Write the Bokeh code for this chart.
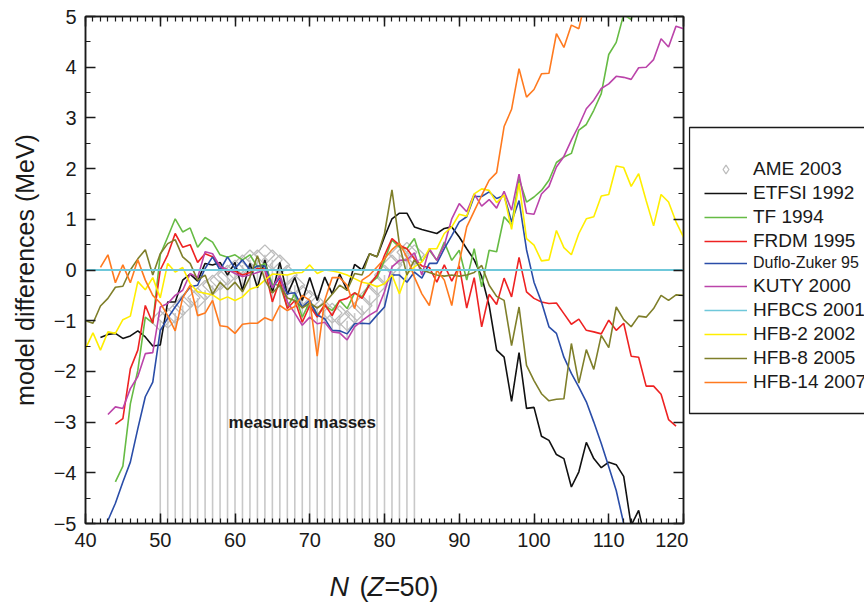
from bokeh.plotting import figure
from bokeh.models import (ColumnDataSource, Legend, LegendItem, LinearAxis,
                          SingleIntervalTicker, Label, Range1d)
from bokeh.layouts import row, column
from bokeh.embed import file_html
from bokeh.resources import INLINE
import numpy as np

# ---------------- data ----------------
ame_start = 50
ame = [-1.0, -0.95, -0.85, -0.7, -0.55, -0.55, -0.4, -0.3, -0.2, -0.1,
       0.0, 0.1, 0.2, 0.2, 0.3, 0.2, 0.1, -0.1, -0.3, -0.5,
       -0.6, -0.7, -0.8, -0.85, -0.9, -1.0, -0.85, -0.7, -0.5, -0.3,
       -0.1, 0.1, 0.3, 0.35, 0.3]

etfsi_start = 42
etfsi = [-1.33, -1.27, -1.25, -1.35, -1.3, -1.2, -1.32, -1.5, -1.48, -0.63,
         -0.63, -0.2, -0.08, -0.22, 0.13, 0.1, 0.15, -0.1, 0.15, -0.4,
         0.13, -0.35, 0.2, -0.45, 0.15, -0.48, -0.15, -0.6, -0.15, -0.6,
         -0.14, -0.47, -0.08, -0.4, 0.11, 0.0, 0.32, 0.26, 0.65, 1.01,
         1.12, 1.12, 0.85, 0.8, 0.76, 0.72, 0.82, 0.85, 0.65, 0.42,
         0.2, -0.13, -0.7, -1.58, -1.72, -2.59, -1.63, -2.73, -2.71, -3.28,
         -3.36, -3.64, -3.72, -4.28, -3.98, -3.4, -3.72, -3.9, -3.79, -3.84,
         -4.07, -5.04, -4.74, -5.4]

tf_start = 44
tf = [-4.18, -3.87, -2.64, -1.98, -0.93, -1.05,
      0.3, 0.65, 1.01, 0.75, 0.83, 0.45, 0.64, 0.55, 0.3, 0.25,
      0.3, 0.2, 0.3, 0.06, 0.13, -0.28, -0.3, -0.73, -0.47, -0.93,
      -0.63, -0.89, -0.7, -0.8, -0.6, -0.76, -0.45, -0.53, -0.27, -0.15,
      0.19, 0.59, 0.45, 0.42, 0.62, 0.16, 0.39, 0.19, 0.55, 0.19,
      0.39, -0.2, 0.42, -0.33, 0.39, 0.36, 1.05, 0.88, 1.8, 1.34,
      1.44, 1.57, 1.77, 2.12, 2.23, 2.3, 2.76, 2.87, 3.15, 3.48,
      4.25, 4.49, 5.04, 4.94, 5.4]

frdm_start = 44
frdm = [-3.04, -2.93, -1.95, -1.58, -0.7, -1.05,
        0.0, 0.3, 0.72, 0.45, 0.5, 0.15, 0.32, 0.26, 0.07, -0.02,
        -0.02, -0.1, -0.05, 0.03, 0.02, -0.63, -0.2, -0.76, -0.6, -1.03,
        -0.7, -0.93, -0.68, -0.9, -0.6, -0.56, -0.45, -0.56, -0.29, -0.1,
        0.29, 0.62, 0.49, 0.42, 0.22, 0.08, 0.05, -0.24, 0.1, -0.22,
        0.08, -0.75, -0.15, -1.12, -0.48, -0.68, -0.16, -0.53, 0.25, -0.43,
        -0.56, -0.63, -0.66, -0.65, -0.86, -1.07, -0.97, -1.19, -1.22, -1.26,
        -0.99, -1.19, -1.05, -1.7, -1.72, -2.29, -2.29, -2.45, -2.95, -3.08]

dz_start = 43
dz = [-4.94, -4.6, -4.18, -3.79, -3.13, -2.5, -2.21,
      -1.19, -0.95, -0.73, -0.53, -0.33, -0.3, 0.03, 0.26, 0.0, 0.26,
      0.03, 0.2, 0.0, 0.08, 0.08, -0.35, -0.15, -0.47, -0.45, -0.73,
      -0.6, -0.89, -0.96, -1.19, -1.2, -1.26, -1.06, -1.05, -1.06, -0.89,
      -0.73, -0.1, -0.1, -0.24, -0.04, -0.16, 0.13, 0.13, 0.42, 0.68,
      0.95, 1.05, 1.45, 1.45, 1.54, 1.41, 1.47, 0.95, 1.37, 0.4,
      -0.24, -0.63, -1.12, -1.25, -1.72, -2.04, -2.31, -2.6, -3.0, -3.42,
      -3.88, -4.35, -5.0, -5.5]

kuty_start = 43
kuty = [-2.85, -2.7, -2.73, -2.34, -2.1, -1.65, -1.63,
        -0.73, -0.66, -0.5, -0.4, -0.07, -0.15, 0.36, 0.32, 0.07, 0.01,
        -0.07, -0.13, -0.1, -0.05, 0.0, -0.35, -0.1, -0.63, -0.85, -1.09,
        -0.93, -1.06, -1.03, -1.22, -1.24, -1.38, -1.12, -1.0, -0.89, -0.8,
        -0.43, 0.06, 0.19, 0.2, 0.34, -0.1, 0.42, 0.19, 0.49, 1.01,
        1.31, 1.15, 1.5, 1.26, 1.39, 1.22, 1.55, 1.18, 1.89, 1.12,
        1.1, 1.5, 1.65, 2.03, 2.24, 2.56, 2.85, 3.18, 3.35, 3.58,
        3.67, 3.82, 3.8, 3.76, 3.99, 4.0, 4.15, 4.56, 4.4, 4.81, 4.76]

hfbcs_N = [40, 120]
hfbcs = [0.0, 0.0]

hfb2_start = 40
hfb2 = [-1.55, -1.24, -1.58, -1.22, -1.25, -0.98, -0.91, -0.23, -0.39, -0.15,
        -0.55, 0.13, -0.04, 0.05, -0.27, -0.43, -0.46, -0.49, -0.59, -0.53,
        -0.6, -0.53, -0.38, -0.33, -0.2, -0.08, -0.09, -0.1, -0.06, -0.05,
        0.1, -0.07, 0.0, -0.02, -0.05, -0.1, -0.17, -0.24, -0.27, -0.33,
        -0.27, -0.1, -0.47, -0.07, 0.06, 0.16, 0.42, 0.42, 0.72, 0.85,
        1.1, 1.06, 1.5, 1.6, 1.57, 1.33, 1.48, 0.8, 1.71, 0.62,
        0.49, 0.18, 0.2, 0.78, 0.44, 0.3, 0.72, 1.01, 1.05, 1.46,
        1.49, 2.05, 2.02, 1.65, 1.9, 1.37, 0.87, 1.49, 1.34, 0.95, 0.65]

hfb8_start = 40
hfb8 = [-1.0, -1.05, -0.71, -0.56, -0.34, -0.32, 0.0, 0.22, 0.4, -0.1,
        0.32, 0.52, 0.6, 0.26, 0.13, -0.2, -0.1, -0.48, -0.24, -0.39,
        -0.24, -0.43, -0.14, 0.28, -0.2, -0.45, -0.3, -0.55, -0.6, -0.75,
        -0.65, -0.75, -0.65, -0.48, -0.3, -0.4, -0.07, -0.1, 0.32, 0.26,
        0.72, 1.58, 0.5, -0.1, 0.2, 0.0, -0.05, -0.1, -0.12, -0.1,
        -0.12, -0.1, -0.05, 0.09, -0.3, -0.52, -0.6, -1.49, -0.73, -1.88,
        -2.18, -2.44, -2.58, -2.55, -2.54, -1.45, -2.23, -1.57, -1.96, -1.29,
        -1.53, -0.73, -0.98, -1.12, -0.91, -0.93, -0.76, -0.5, -0.6, -0.49, -0.5]

hfb14_start = 42
hfb14 = [0.05, 0.3, -0.25, 0.1, -0.25, 0.2, -0.2, -0.5,
         -0.65, -0.9, -1.2, -0.55, -0.3, -0.9, -0.85, -0.6, -1.1, -1.12,
         -1.25, -1.07, -1.05, -1.05, -0.94, -1.0, -0.7, -0.8, -0.72, -0.5,
         -0.6, -1.7, -0.6, -0.15, -0.15, -0.3, -0.76, -0.2, -0.1, 0.06,
         0.22, 0.4, 0.53, 0.25, -0.14, -0.47, -0.7, 0.0, -0.2, -0.7,
         0.15, 0.85, 1.16, 1.47, 1.77, 1.92, 2.83, 3.17, 3.97, 3.41,
         3.56, 3.87, 3.88, 4.66, 4.39, 4.83, 4.76, 5.4]

y_ticks = [-5, -4, -3, -2, -1, 0, 1, 2, 3, 4, 5]


def ns(start, vals):
    return list(range(start, start + len(vals)))


FONT = "Liberation Sans"
INK = "#1a1a1a"

series = [
    ("ETFSI 1992", ns(etfsi_start, etfsi), etfsi, "#111111"),
    ("TF 1994", ns(tf_start, tf), tf, "#66BB44"),
    ("FRDM 1995", ns(frdm_start, frdm), frdm, "#EE2222"),
    ("Duflo-Zuker 95", ns(dz_start, dz), dz, "#2A4DA8"),
    ("KUTY 2000", ns(kuty_start, kuty), kuty, "#BB44AA"),
    ("HFBCS 2001", hfbcs_N, hfbcs, "#6FC8DA"),
    ("HFB-2 2002", ns(hfb2_start, hfb2), hfb2, "#FFEE00"),
    ("HFB-8 2005", ns(hfb8_start, hfb8), hfb8, "#7F7F2A"),
    ("HFB-14 2007", ns(hfb14_start, hfb14), hfb14, "#FF7A1F"),
]

# ---------------- main figure ----------------
p = figure(width=688, height=572, output_backend="svg", toolbar_location=None,
           x_range=Range1d(40, 120), y_range=Range1d(-5, 5),
           min_border_left=85, min_border_right=5, min_border_top=16,
           min_border_bottom=49)
p.frame_align = False
p.grid.visible = False
p.outline_line_color = INK
p.outline_line_width = 1.5

xt = SingleIntervalTicker(interval=10, num_minor_ticks=10)
yt = SingleIntervalTicker(interval=1, num_minor_ticks=2)


def style_axis(ax, labels=True):
    ax.major_tick_in = 10
    ax.major_tick_out = 0
    ax.minor_tick_in = 5
    ax.minor_tick_out = 0
    ax.axis_line_color = INK
    ax.axis_line_width = 1.5
    ax.major_tick_line_color = INK
    ax.major_tick_line_width = 1.5
    ax.minor_tick_line_color = INK
    ax.minor_tick_line_width = 1.2
    ax.major_label_text_font = FONT
    ax.major_label_text_color = INK
    if labels:
        ax.major_label_text_font_size = "20px"
    else:
        ax.major_label_text_font_size = "0px"
        ax.major_label_standoff = 0
        ax.major_label_text_alpha = 0


p.xaxis.ticker = xt
p.yaxis.ticker = yt
style_axis(p.xaxis[0])
style_axis(p.yaxis[0])
p.xaxis.major_label_standoff = 9
p.yaxis.major_label_standoff = 9
p.yaxis.major_label_overrides = {t: ("\u2212%d" % -t if t < 0 else str(t)) for t in y_ticks}
p.yaxis.axis_label = "model differences (MeV)"
p.yaxis.axis_label_text_font = FONT
p.yaxis.axis_label_text_font_size = "25px"
p.yaxis.axis_label_text_font_style = "normal"
p.yaxis.axis_label_text_color = INK
p.yaxis.axis_label_standoff = 12

top_ax = LinearAxis(ticker=xt)
style_axis(top_ax, labels=False)
p.add_layout(top_ax, "above")
right_ax = LinearAxis(ticker=yt)
style_axis(right_ax, labels=False)
p.add_layout(right_ax, "right")

# measured masses (AME 2003)
ame_N = ns(ame_start, ame)
p.segment(x0=ame_N, y0=[-5] * len(ame_N), x1=ame_N, y1=ame,
          line_color="#C8C8C8", line_width=1.6)
p.scatter(x=ame_N, y=ame, marker="square", size=14, angle=np.pi / 4,
          fill_color=None, line_color="#BDBDBD", line_width=1.3)

draw_order = ["ETFSI 1992", "TF 1994", "FRDM 1995", "Duflo-Zuker 95", "KUTY 2000",
              "HFB-2 2002", "HFB-8 2005", "HFB-14 2007", "HFBCS 2001"]
for name in draw_order:
    for (nm, xs, ys, col) in series:
        if nm == name:
            src = ColumnDataSource(dict(N=xs, d=ys))
            p.line(x="N", y="d", source=src, line_color=col,
                   line_width=1.6 if nm != "HFBCS 2001" else 2.0)

p.add_layout(Label(x=69, y=-3, text="measured masses", text_font=FONT,
                   text_font_size="17px", text_font_style="bold",
                   text_align="center", text_baseline="middle", text_color=INK))

# ---------------- legend panel ----------------
lg = figure(width=176, height=572, output_backend="svg", toolbar_location=None,
            x_range=Range1d(0, 176), y_range=Range1d(0, 572),
            x_axis_location=None, y_axis_location=None, min_border=0)
lg.frame_align = False
lg.grid.visible = False
lg.outline_line_color = None
# legend frame box (pixel coordinates of this panel, measured from its bottom)
lg.quad(left=[1], right=[400], bottom=[159], top=[445],
        fill_color="white", line_color=INK, line_width=1.3)

nan = [np.nan]
ame_leg = lg.scatter(x=nan, y=nan, marker="diamond", size=12,
                     fill_color=None, line_color="#BDBDBD", line_width=1.3)
leg_r = {}
for (nm, xs, ys, col) in series:
    leg_r[nm] = lg.line(x=nan, y=nan, line_color=col, line_width=1.6)


def make_legend(items, loc, size):
    L = Legend(items=items, location=loc, orientation="vertical")
    L.label_text_font = FONT
    L.label_text_font_size = size
    L.label_text_color = INK
    L.glyph_width = 43
    L.glyph_height = 22
    L.label_height = 22
    L.label_standoff = 6
    L.spacing = 2
    L.padding = 0
    L.margin = 0
    L.border_line_color = None
    L.background_fill_alpha = 0
    lg.add_layout(L)


names = [s[0] for s in series]
itemsA = [LegendItem(label="AME 2003", renderers=[ame_leg])] + \
         [LegendItem(label=n, renderers=[leg_r[n]]) for n in names[:3]]
itemsB = [LegendItem(label=names[3], renderers=[leg_r[names[3]]])]
itemsC = [LegendItem(label=n, renderers=[leg_r[n]]) for n in names[4:]]
make_legend(itemsA, (16, 572 - 252), "19px")
make_legend(itemsB, (16, 572 - 274), "16px")
make_legend(itemsC, (16, 572 - 393), "19px")

# ---------------- x-axis label ----------------
xl = figure(width=864, height=30, output_backend="svg", toolbar_location=None,
            x_range=Range1d(0, 864), y_range=Range1d(0, 30),
            x_axis_location=None, y_axis_location=None, min_border=0)
xl.frame_align = False
xl.grid.visible = False
xl.outline_line_color = None
base = 16
for txt, x0, style in [("N", 329, "italic"), ("(", 359, "normal"), ("Z", 367, "italic"),
                       ("=", 384, "normal"), ("50)", 399, "normal")]:
    xl.add_layout(Label(x=x0, y=base, x_units="screen", y_units="screen", text=txt,
                        text_font=FONT, text_font_size="27px", text_font_style=style,
                        text_color=INK, text_baseline="alphabetic"))

layout = column(row(p, lg, spacing=0), xl, spacing=0)
open("out.html", "w").write(file_html(layout, INLINE))
